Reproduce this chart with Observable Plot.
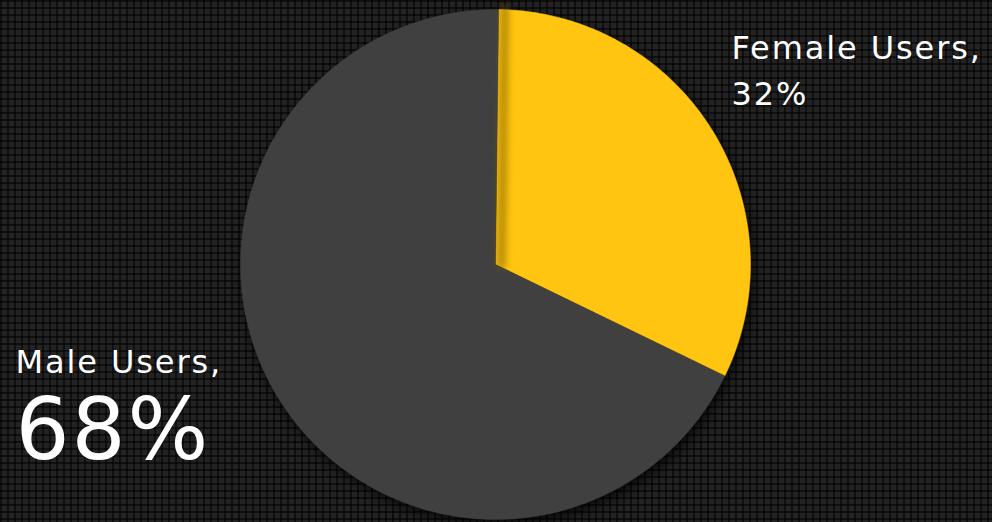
<!DOCTYPE html>
<html>
<head>
<meta charset="utf-8">
<script src="https://cdn.jsdelivr.net/npm/d3@7"></script>
<script src="https://cdn.jsdelivr.net/npm/@observablehq/plot@0.6"></script>
<style>
  html, body { margin: 0; padding: 0; }
  body {
    width: 992px; height: 522px; overflow: hidden;
    background-color: #232323;
    background-image:
      linear-gradient(90deg, rgba(0,0,0,0.55) 2px, transparent 2px),
      linear-gradient(rgba(0,0,0,0.55) 2px, transparent 2px);
    background-size: 7px 7px;
  }
  svg { display: block; background: transparent !important; }
</style>
</head>
<body>
<div id="chart"></div>
<script>
// Data
const categories = ["Female Users", "Male Users"];
const shares = [32, 68];
const colors = ["#FFC510", "#404040"];
const labels = ["Female Users,\n32%", "Male Users,"];
const bigLabel = "68%";

// Build slice outlines (unit circle) from the data via d3.pie
const startOffset = 0.7 * Math.PI / 180;
const arcs = d3.pie().sort(null).startAngle(startOffset).endAngle(2 * Math.PI + startOffset)(shares);
const slicePts = [];
arcs.forEach((a, i) => {
  slicePts.push({cat: categories[i], x: 0, y: 0});
  const n = Math.max(8, Math.ceil((a.endAngle - a.startAngle) * 80));
  for (let k = 0; k <= n; k++) {
    const t = a.startAngle + (a.endAngle - a.startAngle) * k / n;
    slicePts.push({cat: categories[i], x: Math.sin(t), y: Math.cos(t)});
  }
  slicePts.push({cat: categories[i], x: 0, y: 0});
});
const edge = [
  {x: 0, y: 0},
  {x: Math.sin(arcs[0].startAngle), y: Math.cos(arcs[0].startAngle)}
];

const chart = Plot.plot({
  width: 992,
  height: 522,
  margin: 0,
  style: {background: "transparent", overflow: "visible"},
  x: {domain: [-1, 1], range: [240, 750], axis: null},
  y: {domain: [-1, 1], range: [519, 9], axis: null},
  color: {domain: categories, range: colors},
  marks: [
    Plot.line(slicePts, {x: "x", y: "y", z: "cat", fill: "cat", stroke: "cat", strokeWidth: 0.5, curve: "linear", className: "pie"}),
    Plot.line(edge, {x: "x", y: "y", stroke: "#7a5c00", strokeWidth: 9, dx: 6, strokeOpacity: 0.5, className: "edgeshadow"}),
    Plot.text([labels[0]], {frameAnchor: "top-left", text: d => d, dx: 731, dy: 26, fill: "white", fontSize: 32, lineAnchor: "top", textAnchor: "start", lineHeight: 1.44, fontFamily: "DejaVu Sans", className: "lbl"}),
    Plot.text([labels[1]], {frameAnchor: "top-left", text: d => d, dx: 15, dy: 350, fill: "white", fontSize: 32, lineAnchor: "top", textAnchor: "start", fontFamily: "DejaVu Sans", className: "lbl"}),
    Plot.text([bigLabel], {frameAnchor: "top-left", text: d => d, dx: 15, dy: 398, fill: "white", fontSize: 85, lineAnchor: "top", textAnchor: "start", fontFamily: "DejaVu Sans", className: "lbl"})
  ]
});
document.getElementById("chart").appendChild(chart);
d3.select(chart).selectAll("g.pie").style("filter", "drop-shadow(3px 5px 6px rgba(0,0,0,0.7))");
d3.select(chart).selectAll("g.edgeshadow").style("filter", "blur(3px)");
d3.select(chart).selectAll("g.lbl text").style("letter-spacing", "1.9px");
</script>
</body>
</html>
